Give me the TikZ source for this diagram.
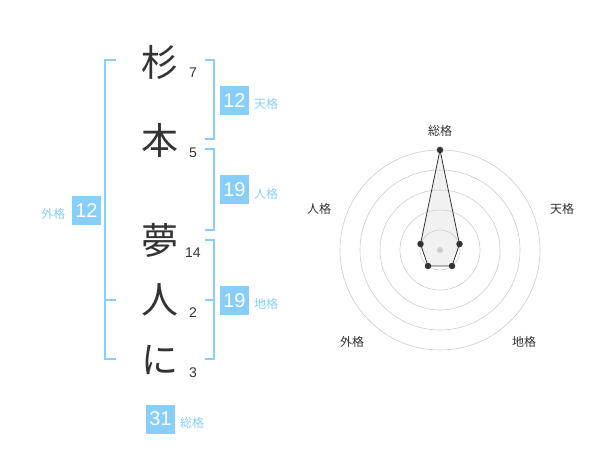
\documentclass[tikz,border=0pt]{standalone}
\usepackage{fontspec}
\setmainfont{Noto Sans CJK JP}
\newfontfamily\numfont{Liberation Sans}
\usetikzlibrary{positioning}
\definecolor{skyb}{HTML}{87CEFA}
\definecolor{ink}{HTML}{333333}
\definecolor{ringgray}{HTML}{CCCCCC}
\definecolor{areagray}{HTML}{E4E4E4}

\begin{document}
\begin{tikzpicture}[x=1pt,y=-1pt,
  kanji/.style={text=ink,inner sep=0pt,font=\fontsize{37}{37}\selectfont},
  strokes/.style={text=ink,inner sep=0pt,font=\numfont\fontsize{14}{14}\selectfont},
  kakubox/.style={fill=skyb,text=white,minimum size=29pt,inner sep=0pt,font=\numfont\fontsize{20}{20}\selectfont},
  kakulabel/.style={text=skyb,inner sep=0pt,font=\fontsize{12}{12}\selectfont},
  bracket/.style={draw=skyb,line width=2pt},
  axislabel/.style={text=ink,inner sep=0pt,font=\fontsize{12}{12}\selectfont},
  ring/.style={draw=ringgray,line width=0.6pt},
  dot/.style={circle,fill=ink,inner sep=0pt,minimum size=6.5pt}]

\useasboundingbox (0,0) rectangle (600,470);

% name characters and stroke counts
\node[kanji] (k1) at (160,62) {杉};
\node[kanji] (k2) at (160,140) {本};
\node[kanji] (k3) at (160,240) {夢};
\node[kanji] (k4) at (160,300) {人};
\node[kanji] (k5) at (160,360) {に};
\node[strokes] (s1) at (193,73) {7};
\node[strokes] (s2) at (193,153) {5};
\node[strokes] (s3) at (193,253) {14};
\node[strokes] (s4) at (193,313) {2};
\node[strokes] (s5) at (193,373) {3};

% brackets
\draw[bracket] (205,60) -- (214,60) -- (214,139) -- (205,139);
\draw[bracket] (205,149) -- (214,149) -- (214,230) -- (205,230);
\draw[bracket] (205,240) -- (214,240) -- (214,359) -- (205,359);
\draw[bracket] (205,300) -- (214,300);
\draw[bracket] (116,60) -- (105,60) -- (105,359) -- (116,359);
\draw[bracket] (105,300) -- (116,300);

% boxes
\node[kakubox] (ten) at (234.5,100.5) {12};
\node[kakulabel] (tenl) at (266,104) {天格};
\node[kakubox] (jin) at (234.5,190) {19};
\node[kakulabel] (jinl) at (266,194) {人格};
\node[kakubox] (chi) at (234.5,300.5) {19};
\node[kakulabel] (chil) at (266,304) {地格};
\node[kakubox] (gai) at (86.5,210.5) {12};
\node[kakulabel] (gail) at (53.5,214) {外格};
\node[kakubox] (sou) at (160.5,419) {31};
\node[kakulabel] (soul) at (192,423) {総格};

% radar chart
\coordinate (c) at (440,250);
\node[axislabel] (ax1) at (440,131) {総格};
\node[axislabel] (ax2) at (562,209) {天格};
\node[axislabel] (ax3) at (524,342) {地格};
\node[axislabel] (ax4) at (352,342) {外格};
\node[axislabel] (ax5) at (319,209) {人格};
\coordinate (p1) at (440,150);
\coordinate (p2) at (459.5,244);
\coordinate (p3) at (452,266);
\coordinate (p4) at (428,266);
\coordinate (p5) at (420.5,244);
\fill[areagray,fill opacity=0.5] (p1) -- (p2) -- (p3) -- (p4) -- (p5) -- cycle;
\foreach \r in {20,40,60,80,100}
  \draw[ring] (c) circle (\r);
\draw[ink,line width=0.8pt] (p1) -- (p2) -- (p3) -- (p4) -- (p5) -- cycle;
\foreach \p in {p1,p2,p3,p4,p5}
  \node[dot] at (\p) {};
\node[circle,fill=ringgray,inner sep=0pt,minimum size=6pt] (cd) at (c) {};

\end{tikzpicture}
\end{document}
